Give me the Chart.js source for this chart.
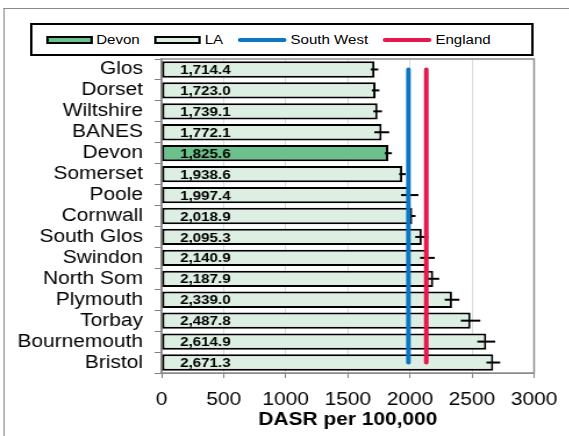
<!DOCTYPE html>
<html>
<head>
<meta charset="utf-8">
<script src="https://cdn.jsdelivr.net/npm/chart.js@4/dist/chart.umd.min.js"></script>
<style>
  html, body { margin:0; padding:0; background:#fff; overflow:hidden; width:569px; height:436px; }
  #stage { position:absolute; left:0; top:0; width:490.5px; height:436px; transform:scaleX(1.16); transform-origin:0 0; }
  #frame { position:absolute; left:2.6px; top:8px; width:600px; height:500px; border-left:1px solid #8a8a8a; border-top:1px solid #8a8a8a; }
  #wrap { position:absolute; left:0; top:0; width:490.5px; height:436px; }
  #legend { position:absolute; left:25.9px; top:23px; width:434.5px; height:33px; box-sizing:border-box; border:2px solid #000; background:#fff;
            display:flex; align-items:center; padding-left:12px; gap:13px; font:13px "Liberation Sans", Arial, sans-serif; color:#000; z-index:2; }
  .item { display:flex; align-items:center; white-space:nowrap; }
  .sw { width:40px; height:8px; box-sizing:border-box; border:2px solid #000; margin-right:3px; }
  .ln { width:42px; height:4px; border-radius:2px; margin-right:3px; }
</style>
</head>
<body>
<div id="stage">
  <div id="frame"></div>
  <div id="wrap"><canvas id="c"></canvas></div>
  <div id="legend"></div>
</div>
<script>
// ---- data ----
const CATEGORIES = ['Glos','Dorset','Wiltshire','BANES','Devon','Somerset','Poole','Cornwall','South Glos','Swindon','North Som','Plymouth','Torbay','Bournemouth','Bristol'];
const VALUES     = [1714.4,1723.0,1739.1,1772.1,1825.6,1938.6,1997.4,2018.9,2095.3,2140.9,2187.9,2339.0,2487.8,2614.9,2671.3];
const CI_LOW     = [1684,1693,1705,1713,1797,1913,1928,1993,2043,2082,2140,2280,2410,2543,2616];
const CI_HIGH    = [1745,1754,1775,1833,1855,1965,2068,2045,2148,2200,2236,2398,2567,2687,2727];
const HIGHLIGHT  = 'Devon';
const SOUTH_WEST = 1988;
const ENGLAND    = 2132;
const X_MIN = 0, X_MAX = 3000, X_STEP = 500;
const AXIS_TITLE = 'DASR per 100,000';

const FONT = '"Liberation Sans", Arial, sans-serif';
const COL_DEVON = '#6cc08b', COL_LA = '#ddeee2', COL_SW = '#0b76c4', COL_ENG = '#e8174f';

const devonData = VALUES.map((v,i) => CATEGORIES[i] === HIGHLIGHT ? v : null);
const laData    = VALUES.map((v,i) => CATEGORIES[i] === HIGHLIGHT ? null : v);
const last = CATEGORIES.length - 1;

const overlay = {
  id: 'overlay',
  beforeDatasetsDraw(chart) {
    const {ctx, chartArea:a} = chart;
    ctx.save();
    ctx.strokeStyle = '#8c8c8c';
    ctx.lineWidth = 1.5;
    ctx.strokeRect(a.left, a.top, a.right - a.left, a.bottom - a.top);
    ctx.restore();
  },
  afterDatasetDraw(chart, args) {
    if (args.index !== 1) return;
    const {ctx} = chart;
    const xs = chart.scales.x, ys = chart.scales.y;
    ctx.save();
    ctx.strokeStyle = '#000';
    ctx.lineWidth = 2;
    for (let i = 0; i < CATEGORIES.length; i++) {
      const y = ys.getPixelForValue(i);
      ctx.beginPath();
      ctx.moveTo(xs.getPixelForValue(CI_LOW[i]), y);
      ctx.lineTo(xs.getPixelForValue(CI_HIGH[i]), y);
      ctx.stroke();
    }
    ctx.fillStyle = '#000';
    ctx.font = 'bold 13px ' + FONT;
    ctx.textBaseline = 'middle';
    ctx.textAlign = 'left';
    const x0 = xs.getPixelForValue(0) + 16;
    for (let i = 0; i < CATEGORIES.length; i++) {
      const y = ys.getPixelForValue(i) + 1;
      ctx.fillText(VALUES[i].toLocaleString('en-GB', {minimumFractionDigits:1, maximumFractionDigits:1}), x0, y);
    }
    ctx.restore();
  }
};

const chart = new Chart(document.getElementById('c'), {
  type: 'bar',
  data: {
    labels: CATEGORIES,
    datasets: [
      { label:'Devon', data: devonData, backgroundColor: COL_DEVON, borderColor:'#000', borderWidth:2, borderSkipped:false,
        grouped:false, barPercentage:0.78, categoryPercentage:1, order:2 },
      { label:'LA', data: laData, backgroundColor: COL_LA, borderColor:'#000', borderWidth:2, borderSkipped:false,
        grouped:false, barPercentage:0.78, categoryPercentage:1, order:1 },
      { type:'line', label:'South West', data:[{x:SOUTH_WEST, y:CATEGORIES[0]}, {x:SOUTH_WEST, y:CATEGORIES[last]}],
        borderColor: COL_SW, backgroundColor: COL_SW, borderWidth:4, borderCapStyle:'round', pointRadius:0, fill:false, order:0 },
      { type:'line', label:'England', data:[{x:ENGLAND, y:CATEGORIES[0]}, {x:ENGLAND, y:CATEGORIES[last]}],
        borderColor: COL_ENG, backgroundColor: COL_ENG, borderWidth:4, borderCapStyle:'round', pointRadius:0, fill:false, order:0 }
    ]
  },
  options: {
    indexAxis: 'y',
    responsive: true,
    maintainAspectRatio: false,
    animation: false,
    layout: { padding: { top:59, right:31, left:0, bottom:0 } },
    plugins: { legend:{display:false}, tooltip:{enabled:false}, title:{display:false} },
    scales: {
      x: {
        type:'linear', min:X_MIN, max:X_MAX,
        ticks: { stepSize:X_STEP, color:'#000', font:{family:FONT, size:18}, padding:11, maxRotation:0,
                 callback: v => String(v) },
        grid: { color:'#d9d9d9', tickColor:'#808080', tickLength:5, lineWidth:1 },
        border: { display:true, color:'#808080', width:1 },
        title: { display:true, text:AXIS_TITLE, color:'#000', font:{family:FONT, size:18, weight:'bold'}, padding:{top:0, bottom:5} },
        afterFit(scale) { scale.height = 63; }
      },
      y: {
        type:'category', offset:true,
        ticks: { color:'#000', font:{family:FONT, size:18}, padding:10, autoSkip:false },
        grid: { drawOnChartArea:false, offset:true, tickLength:6, color:'#808080' },
        border: { display:true, color:'#808080', width:1.5 },
        afterFit(scale) { scale.width = 139; }
      }
    }
  },
  plugins: [overlay]
});

// legend built from the chart's datasets
const lg = document.getElementById('legend');
chart.data.datasets.forEach(ds => {
  const it = document.createElement('div'); it.className = 'item';
  const s = document.createElement('span');
  if (ds.type === 'line') { s.className = 'ln'; s.style.background = ds.borderColor; }
  else { s.className = 'sw'; s.style.background = ds.backgroundColor; }
  const t = document.createElement('span'); t.textContent = ds.label;
  it.appendChild(s); it.appendChild(t); lg.appendChild(it);
});
</script>
</body>
</html>
